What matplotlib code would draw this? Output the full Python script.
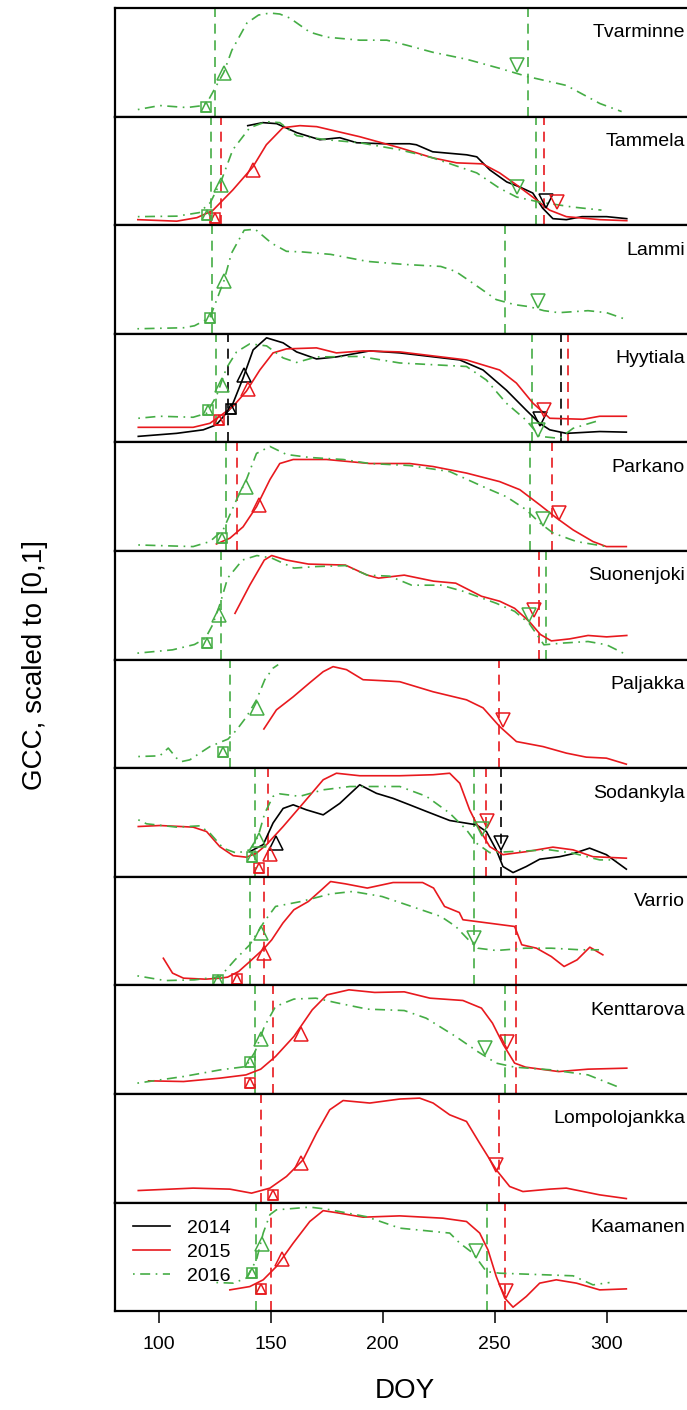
import matplotlib
matplotlib.use("Agg")
import matplotlib.pyplot as plt
from matplotlib.lines import Line2D

plt.rcParams['font.family'] = ['Liberation Sans', 'DejaVu Sans']

sites = ["Tvarminne", "Tammela", "Lammi", "Hyytiala", "Parkano", "Suonenjoki",
         "Paljakka", "Sodankyla", "Varrio", "Kenttarova", "Lompolojankka", "Kaamanen"]
years = [2014, 2015, 2016]
year_colors = {2014: "black", 2015: "#E8191E", 2016: "#45AD45"}
xticks = [100, 150, 200, 250, 300]

# Tvarminne
tva16_doy = [90.6, 100.4, 112.5, 119.8, 122.3, 125.0, 129.0, 132.6, 139.3, 144.5, 149.6, 154.0, 158.5,
             167.4, 175.0, 189.7, 201.8, 210.7, 222.3, 237.5, 252.2, 264.3, 282.0, 297.0, 306.7]
tva16_gcc = [0.03, 0.07, 0.05, 0.07, 0.13, 0.24, 0.40, 0.62, 0.89, 0.97, 0.99, 0.98, 0.94,
             0.80, 0.75, 0.72, 0.72, 0.67, 0.60, 0.53, 0.44, 0.36, 0.27, 0.09, 0.01]
tva16_sos, tva16_mid, tva16_eos = (121.0, 0.06), (129.0, 0.39), (259.8, 0.47)
tva16_lines = [125.0, 264.7]

# Tammela
tam14_doy = [139.7, 146.4, 152.6, 161.6, 171.9, 180.8, 188.4, 200.0, 212.0, 215.0, 222.3, 237.5,
             242.0, 247.8, 255.4, 261.2, 267.0, 271.4, 276.0, 282.0, 289.0, 300.0, 309.0]
tam14_gcc = [0.95, 0.98, 0.97, 0.88, 0.81, 0.83, 0.78, 0.77, 0.77, 0.76, 0.69, 0.66,
             0.64, 0.51, 0.39, 0.34, 0.28, 0.13, 0.025, 0.015, 0.045, 0.045, 0.025]
tam14_sos, tam14_mid, tam14_eos = None, None, (273.0, 0.20)
tam14_lines = []
tam15_doy = [90.6, 108.0, 117.0, 124.0, 133.0, 142.0, 148.0, 155.4, 163.0, 170.5, 189.7, 207.6,
             222.3, 233.0, 244.6, 252.2, 259.8, 267.0, 274.5, 282.0, 297.0, 309.0]
tam15_gcc = [0.015, 0.0, 0.035, 0.105, 0.31, 0.54, 0.76, 0.93, 0.95, 0.94, 0.84, 0.73,
             0.63, 0.58, 0.57, 0.48, 0.36, 0.24, 0.11, 0.045, 0.015, 0.005]
tam15_sos, tam15_mid, tam15_eos = (125.0, 0.035), (142.0, 0.51), (277.7, 0.195)
tam15_lines = [127.7, 271.9]
tam16_doy = [90.6, 108.0, 118.0, 123.0, 128.0, 133.0, 140.6, 148.0, 154.0, 161.6, 175.0, 189.7,
             207.6, 222.3, 242.0, 252.0, 259.8, 270.0, 285.0, 297.7]
tam16_gcc = [0.045, 0.05, 0.085, 0.185, 0.41, 0.71, 0.93, 0.99, 0.98, 0.85, 0.81, 0.78,
             0.71, 0.63, 0.48, 0.33, 0.24, 0.19, 0.14, 0.11]
tam16_sos, tam16_mid, tam16_eos = (121.4, 0.065), (127.7, 0.36), (259.8, 0.34)
tam16_lines = [123.5, 268.6]

# Lammi
lam16_doy = [90.4, 111.0, 115.9, 122.8, 129.1, 132.4, 138.1, 143.0, 150.4, 157.0, 163.6, 176.7, 193.1,
             209.6, 225.9, 232.6, 242.4, 250.7, 258.9, 265.4, 272.0, 278.6, 291.7, 300.0, 309.0]
lam16_gcc = [0.01, 0.02, 0.04, 0.12, 0.49, 0.76, 0.99, 1.0, 0.86, 0.78, 0.775, 0.75, 0.68,
             0.65, 0.63, 0.58, 0.43, 0.30, 0.25, 0.23, 0.19, 0.17, 0.19, 0.17, 0.10]
lam16_sos, lam16_mid, lam16_eos = (122.8, 0.12), (129.1, 0.49), (269.5, 0.29)
lam16_lines = [123.7, 254.5]

# Hyytiala
hyy14_doy = [90.8, 107.9, 119.8, 125.7, 129.5, 132.4, 137.6, 142.1, 148.1, 155.5, 161.5, 170.4,
             179.3, 194.2, 207.6, 234.4, 244.8, 255.2, 264.1, 270.1, 274.6, 282.0, 296.9, 308.8]
hyy14_gcc = [0.02, 0.05, 0.085, 0.135, 0.235, 0.31, 0.60, 0.88, 1.0, 0.95, 0.86, 0.79,
             0.81, 0.87, 0.85, 0.78, 0.68, 0.48, 0.28, 0.15, 0.085, 0.05, 0.068, 0.062]
hyy14_sos, hyy14_mid, hyy14_eos = (132.0, 0.29), (137.9, 0.63), (270.4, 0.19)
hyy14_lines = [130.9, 279.8]
hyy15_doy = [90.8, 115.3, 122.8, 127.2, 133.2, 139.1, 145.1, 151.0, 157.0, 170.4, 179.3, 191.2,
             207.6, 237.4, 252.2, 259.7, 267.1, 274.6, 289.4, 296.9, 308.8]
hyy15_gcc = [0.11, 0.11, 0.15, 0.22, 0.32, 0.47, 0.68, 0.85, 0.89, 0.90, 0.85, 0.87,
             0.86, 0.78, 0.68, 0.55, 0.35, 0.20, 0.19, 0.22, 0.22]
hyy15_sos, hyy15_mid, hyy15_eos = (126.9, 0.18), (139.9, 0.49), (271.9, 0.28)
hyy15_lines = [282.7]
hyy16_doy = [90.8, 100.4, 115.3, 121.3, 125.7, 130.2, 134.7, 140.6, 148.1, 155.5, 161.5, 170.4,
             189.7, 207.6, 237.4, 246.3, 255.2, 264.1, 270.1, 279.0, 285.0, 296.9]
hyy16_gcc = [0.20, 0.22, 0.21, 0.25, 0.42, 0.70, 0.86, 0.94, 0.92, 0.80, 0.755, 0.81,
             0.815, 0.75, 0.715, 0.58, 0.35, 0.18, 0.02, 0.0, 0.10, 0.18]
hyy16_sos, hyy16_mid, hyy16_eos = (122.0, 0.28), (128.0, 0.53), (269.3, 0.085)
hyy16_lines = [125.7, 266.8]

# Parkano
par15_doy = [125.7, 131.7, 137.6, 143.6, 149.6, 154.0, 160.0, 174.9, 194.2, 212.0, 222.5, 237.4,
             252.2, 261.2, 270.1, 277.5, 285.0, 293.9, 299.9, 308.8]
par15_gcc = [0.03, 0.087, 0.20, 0.40, 0.67, 0.83, 0.87, 0.87, 0.83, 0.83, 0.80, 0.735,
             0.65, 0.57, 0.42, 0.29, 0.17, 0.054, 0.004, 0.004]
par15_sos, par15_mid, par15_eos = None, (144.6, 0.42), (278.6, 0.34)
par15_lines = [134.9, 275.6]
par16_doy = [90.8, 115.3, 122.8, 128.7, 134.7, 139.1, 143.6, 149.6, 157.0, 167.4, 182.3, 194.2,
             212.0, 229.9, 244.8, 255.2, 264.1, 270.1, 276.0, 286.5, 299.9]
par16_gcc = [0.02, 0.004, 0.054, 0.17, 0.47, 0.67, 0.93, 1.0, 0.92, 0.89, 0.87, 0.83,
             0.81, 0.75, 0.60, 0.50, 0.37, 0.24, 0.14, 0.054, 0.004]
par16_sos, par16_mid, par16_eos = (128.0, 0.087), (138.8, 0.60), (271.6, 0.28)
par16_lines = [129.8, 265.6]

# Suonenjoki
suo15_doy = [134.0, 140.6, 147.1, 150.4, 157.0, 166.8, 183.3, 193.1, 198.1, 209.6, 222.7, 232.6,
             244.1, 252.3, 258.9, 265.4, 270.4, 275.3, 283.5, 291.7, 300.0, 309.0]
suo15_gcc = [0.42, 0.70, 0.95, 0.995, 0.95, 0.91, 0.90, 0.80, 0.77, 0.80, 0.74, 0.72,
             0.59, 0.54, 0.47, 0.34, 0.21, 0.146, 0.166, 0.20, 0.186, 0.20]
suo15_sos, suo15_mid, suo15_eos = None, None, (267.4, 0.45)
suo15_lines = [270.0]
suo16_doy = [90.4, 106.1, 115.9, 120.8, 124.1, 127.4, 130.7, 137.3, 143.8, 150.4, 160.3, 170.1, 183.3,
             193.1, 203.0, 212.9, 226.0, 235.8, 250.7, 258.9, 265.4, 272.0, 280.2, 291.7, 300.0, 309.0]
suo16_gcc = [0.024, 0.057, 0.11, 0.173, 0.31, 0.52, 0.77, 0.95, 0.995, 0.97, 0.87, 0.885, 0.895,
             0.80, 0.79, 0.70, 0.70, 0.64, 0.52, 0.44, 0.32, 0.107, 0.124, 0.14, 0.107, 0.007]
suo16_sos, suo16_mid, suo16_eos = (121.7, 0.124), (126.9, 0.40), (265.4, 0.405)
suo16_lines = [127.9, 272.8]

# Paljakka
pal15_doy = [146.9, 152.5, 160.0, 167.4, 173.4, 177.8, 183.8, 191.2, 200.1, 207.6, 222.5, 237.4,
             244.8, 252.2, 259.7, 271.6, 282.0, 290.9, 299.9, 308.8]
pal15_gcc = [0.35, 0.54, 0.67, 0.81, 0.92, 0.97, 0.94, 0.84, 0.83, 0.82, 0.72, 0.64,
             0.56, 0.375, 0.225, 0.175, 0.11, 0.07, 0.06, 0.0]
pal15_sos, pal15_mid, pal15_eos = None, None, (253.7, 0.435)
pal15_lines = [251.8]
pal16_doy = [90.8, 100.4, 104.2, 107.9, 110.1, 113.8, 118.3, 122.8, 130.9, 134.7, 139.1, 143.6,
             147.3, 151.0, 153.3]
pal16_gcc = [0.076, 0.083, 0.16, 0.06, 0.026, 0.043, 0.11, 0.175, 0.25, 0.34, 0.47, 0.64,
             0.84, 0.955, 0.99]
pal16_sos, pal16_mid, pal16_eos = (128.7, 0.12), (143.9, 0.56), None
pal16_lines = [131.7]

# Sodankyla
sod14_doy = [140.6, 146.6, 151.0, 155.5, 160.0, 165.9, 173.4, 180.8, 189.7, 197.2, 204.6, 212.0, 219.5,
             229.9, 241.8, 246.3, 250.7, 253.7, 258.2, 264.1, 270.1, 279.0, 285.0, 292.4, 299.9, 308.8]
sod14_gcc = [0.21, 0.28, 0.495, 0.64, 0.676, 0.626, 0.576, 0.69, 0.875, 0.79, 0.74, 0.676, 0.61,
             0.52, 0.477, 0.41, 0.228, 0.062, 0.002, 0.062, 0.135, 0.16, 0.19, 0.245, 0.18, 0.036]
sod14_sos, sod14_mid, sod14_eos = None, (152.1, 0.295), (252.7, 0.30)
sod14_lines = [252.7]
sod15_doy = [90.8, 100.4, 115.3, 121.3, 127.2, 133.2, 139.1, 143.6, 148.1, 155.5, 164.4, 173.4, 179.3,
             189.7, 207.6, 222.5, 229.9, 234.4, 238.8, 243.3, 247.8, 253.7, 264.1, 276.0, 285.0, 293.9, 308.8]
sod15_gcc = [0.46, 0.47, 0.454, 0.41, 0.26, 0.17, 0.155, 0.195, 0.28, 0.46, 0.69, 0.925, 0.99,
             0.965, 0.965, 0.975, 0.99, 0.89, 0.626, 0.427, 0.26, 0.18, 0.21, 0.255, 0.228, 0.16, 0.145]
sod15_sos, sod15_mid, sod15_eos = (144.8, 0.046), (149.8, 0.19), (246.6, 0.51)
sod15_lines = [148.8, 246.0]
sod16_doy = [90.8, 94.5, 107.9, 118.3, 122.8, 128.7, 134.7, 140.6, 144.3, 147.3, 151.0, 154.0, 162.9,
             173.4, 185.3, 197.2, 207.6, 219.5, 229.9, 237.4, 241.8, 247.8, 256.7, 274.6, 285.0, 296.9, 304.3]
sod16_gcc = [0.527, 0.487, 0.454, 0.467, 0.394, 0.245, 0.195, 0.228, 0.36, 0.593, 0.76, 0.785, 0.76,
             0.825, 0.858, 0.858, 0.858, 0.76, 0.593, 0.427, 0.295, 0.20, 0.21, 0.228, 0.195, 0.128, 0.128]
sod16_sos, sod16_mid, sod16_eos = (141.8, 0.16), (144.8, 0.327), (244.5, 0.44)
sod16_lines = [142.9, 240.6]

# Varrio
var15_doy = [102.0, 106.1, 111.0, 120.8, 127.4, 130.7, 135.6, 140.6, 147.1, 150.4, 155.4, 160.3, 166.8,
             172.6, 176.7, 183.3, 193.1, 204.6, 217.8, 222.7, 227.6, 234.2, 235.8, 258.9, 262.1, 268.7,
             275.3, 281.0, 286.8, 292.5, 298.3]
var15_gcc = [0.23, 0.082, 0.032, 0.022, 0.032, 0.042, 0.098, 0.197, 0.33, 0.413, 0.58, 0.712, 0.795,
             0.91, 0.993, 0.97, 0.928, 0.983, 0.983, 0.928, 0.745, 0.685, 0.613, 0.546, 0.364, 0.33,
             0.247, 0.148, 0.214, 0.34, 0.264]
var15_sos, var15_mid, var15_eos = (134.8, 0.022), (147.1, 0.28), None
var15_lines = [146.8, 259.7]
var16_doy = [90.4, 102.8, 115.9, 127.4, 134.0, 140.6, 147.1, 152.1, 163.6, 176.7, 186.6, 199.7,
             212.9, 226.0, 232.6, 238.3, 242.4, 250.7, 263.8, 275.3, 288.4, 296.6]
var16_gcc = [0.055, 0.008, 0.015, 0.048, 0.214, 0.364, 0.595, 0.745, 0.795, 0.87, 0.894, 0.844,
             0.745, 0.645, 0.546, 0.413, 0.33, 0.307, 0.33, 0.33, 0.314, 0.314]
var16_sos, var16_mid, var16_eos = (126.6, 0.015), (145.5, 0.486), (240.8, 0.43)
var16_lines = [140.9, 240.8]

# Kenttarova
ken15_doy = [95.4, 111.0, 127.4, 138.9, 145.5, 152.1, 160.3, 168.5, 175.1, 184.9, 196.4, 209.6,
             221.1, 235.8, 244.1, 249.0, 253.9, 258.9, 263.8, 278.6, 291.7, 309.0]
ken15_gcc = [0.091, 0.084, 0.118, 0.15, 0.207, 0.333, 0.532, 0.797, 0.946, 0.996, 0.97, 0.976,
             0.913, 0.89, 0.814, 0.665, 0.449, 0.267, 0.227, 0.183, 0.207, 0.217]
ken15_sos, ken15_mid, ken15_eos = (140.6, 0.074), (163.6, 0.558), (255.3, 0.48)
ken15_lines = [150.8, 259.7]
ken16_doy = [90.4, 111.0, 127.4, 138.9, 143.0, 147.1, 152.1, 160.3, 170.1, 180.0, 193.1, 209.6,
             219.4, 232.6, 242.4, 250.7, 258.9, 275.3, 291.7, 306.5]
ken16_gcc = [0.068, 0.134, 0.20, 0.233, 0.382, 0.63, 0.83, 0.904, 0.913, 0.864, 0.804, 0.79,
             0.714, 0.532, 0.382, 0.267, 0.227, 0.20, 0.15, 0.018]
ken16_sos, ken16_mid, ken16_eos = (140.6, 0.283), (145.8, 0.506), (245.7, 0.416)
ken16_lines = [143.0, 254.8]

# Lompolojankka
lom15_doy = [90.8, 115.3, 131.7, 141.4, 149.6, 157.0, 164.4, 170.4, 176.3, 182.3, 194.2, 207.6,
             216.5, 222.5, 229.9, 237.4, 243.3, 250.7, 256.7, 262.6, 274.6, 282.0, 296.9, 308.8]
lom15_gcc = [0.08, 0.104, 0.094, 0.054, 0.104, 0.22, 0.385, 0.65, 0.883, 0.975, 0.95, 0.99,
             0.999, 0.95, 0.833, 0.767, 0.55, 0.286, 0.12, 0.07, 0.094, 0.104, 0.037, 0.0]
lom15_sos, lom15_mid, lom15_eos = (150.8, 0.037), (163.7, 0.352), (250.7, 0.335)
lom15_lines = [145.8, 251.8]

# Kaamanen
kaa15_doy = [131.7, 140.6, 146.6, 152.5, 160.0, 167.4, 173.4, 179.3, 191.2, 207.6, 226.9, 237.4,
             243.3, 247.0, 250.7, 254.5, 258.2, 264.1, 270.1, 277.5, 286.5, 296.9, 308.8]
kaa15_gcc = [0.172, 0.205, 0.272, 0.404, 0.637, 0.852, 0.96, 0.94, 0.895, 0.908, 0.885, 0.852,
             0.737, 0.57, 0.305, 0.09, 0.0, 0.106, 0.239, 0.272, 0.239, 0.172, 0.182]
kaa15_sos, kaa15_mid, kaa15_eos = (145.8, 0.18), (154.8, 0.478), (254.9, 0.156)
kaa15_lines = [150.0, 254.8]
kaa16_doy = [125.7, 133.2, 139.1, 143.6, 146.6, 149.6, 152.5, 167.4, 174.9, 192.7, 207.6, 229.9,
             234.4, 240.3, 246.3, 252.2, 285.0, 293.9, 301.3]
kaa16_gcc = [0.245, 0.239, 0.29, 0.47, 0.737, 0.92, 0.968, 0.995, 0.975, 0.90, 0.786, 0.737,
             0.637, 0.537, 0.354, 0.338, 0.312, 0.222, 0.245]
kaa16_sos, kaa16_mid, kaa16_eos = (141.8, 0.338), (146.1, 0.63), (241.8, 0.56)
kaa16_lines = [143.6, 246.6]

series = [
    ("Tvarminne", 2016, tva16_doy, tva16_gcc, tva16_sos, tva16_mid, tva16_eos, tva16_lines),
    ("Tammela", 2014, tam14_doy, tam14_gcc, tam14_sos, tam14_mid, tam14_eos, tam14_lines),
    ("Tammela", 2015, tam15_doy, tam15_gcc, tam15_sos, tam15_mid, tam15_eos, tam15_lines),
    ("Tammela", 2016, tam16_doy, tam16_gcc, tam16_sos, tam16_mid, tam16_eos, tam16_lines),
    ("Lammi", 2016, lam16_doy, lam16_gcc, lam16_sos, lam16_mid, lam16_eos, lam16_lines),
    ("Hyytiala", 2014, hyy14_doy, hyy14_gcc, hyy14_sos, hyy14_mid, hyy14_eos, hyy14_lines),
    ("Hyytiala", 2015, hyy15_doy, hyy15_gcc, hyy15_sos, hyy15_mid, hyy15_eos, hyy15_lines),
    ("Hyytiala", 2016, hyy16_doy, hyy16_gcc, hyy16_sos, hyy16_mid, hyy16_eos, hyy16_lines),
    ("Parkano", 2015, par15_doy, par15_gcc, par15_sos, par15_mid, par15_eos, par15_lines),
    ("Parkano", 2016, par16_doy, par16_gcc, par16_sos, par16_mid, par16_eos, par16_lines),
    ("Suonenjoki", 2015, suo15_doy, suo15_gcc, suo15_sos, suo15_mid, suo15_eos, suo15_lines),
    ("Suonenjoki", 2016, suo16_doy, suo16_gcc, suo16_sos, suo16_mid, suo16_eos, suo16_lines),
    ("Paljakka", 2015, pal15_doy, pal15_gcc, pal15_sos, pal15_mid, pal15_eos, pal15_lines),
    ("Paljakka", 2016, pal16_doy, pal16_gcc, pal16_sos, pal16_mid, pal16_eos, pal16_lines),
    ("Sodankyla", 2014, sod14_doy, sod14_gcc, sod14_sos, sod14_mid, sod14_eos, sod14_lines),
    ("Sodankyla", 2015, sod15_doy, sod15_gcc, sod15_sos, sod15_mid, sod15_eos, sod15_lines),
    ("Sodankyla", 2016, sod16_doy, sod16_gcc, sod16_sos, sod16_mid, sod16_eos, sod16_lines),
    ("Varrio", 2015, var15_doy, var15_gcc, var15_sos, var15_mid, var15_eos, var15_lines),
    ("Varrio", 2016, var16_doy, var16_gcc, var16_sos, var16_mid, var16_eos, var16_lines),
    ("Kenttarova", 2015, ken15_doy, ken15_gcc, ken15_sos, ken15_mid, ken15_eos, ken15_lines),
    ("Kenttarova", 2016, ken16_doy, ken16_gcc, ken16_sos, ken16_mid, ken16_eos, ken16_lines),
    ("Lompolojankka", 2015, lom15_doy, lom15_gcc, lom15_sos, lom15_mid, lom15_eos, lom15_lines),
    ("Kaamanen", 2015, kaa15_doy, kaa15_gcc, kaa15_sos, kaa15_mid, kaa15_eos, kaa15_lines),
    ("Kaamanen", 2016, kaa16_doy, kaa16_gcc, kaa16_sos, kaa16_mid, kaa16_eos, kaa16_lines),
]

line_styles = {2014: "-", 2015: "-", 2016: (0, (1, 3.3, 6, 3.3))}

W, H = 687, 1410
fig = plt.figure(figsize=(W / 100, H / 100), dpi=100)
top0, ph, left = 8, 108.6, 115

axes = {}
for i, name in enumerate(sites):
    ax = fig.add_axes([left / W, 1 - (top0 + ph * (i + 1)) / H, (W - left) / W, ph / H])
    ax.set_xlim(80.4, 335.9)
    ax.set_ylim(-0.04, 1.04)
    ax.set_yticks([])
    for s in ["left", "top", "bottom"]:
        ax.spines[s].set_linewidth(1.6)
    ax.spines["right"].set_visible(False)
    if i < len(sites) - 1:
        ax.set_xticks([])
    else:
        ax.set_xticks(xticks)
        ax.tick_params(axis="x", length=8.6, width=1.1, labelsize=14, pad=9)
    ax.text(0.9965, 0.77, name, transform=ax.transAxes, ha="right", va="center", fontsize=14)
    axes[name] = ax

for name, yr, doy, gcc, sos, mid, eos, vl in series:
    ax = axes[name]
    c = year_colors[yr]
    ax.plot(doy, gcc, color=c, lw=1.2, linestyle=line_styles[yr], zorder=2)
    for v in vl:
        ax.axvline(v, color=c, lw=1.2, linestyle=(0, (6, 4)), zorder=1.5)
    if sos is not None:
        ax.plot(*sos, marker="s", ms=7.2, mfc="none", mec=c, mew=1.1, zorder=3)
        ax.plot(*sos, marker="^", ms=7.2, mfc="none", mec=c, mew=1.1, zorder=3)
    if mid is not None:
        ax.plot(*mid, marker="^", ms=9.5, mfc="none", mec=c, mew=1.1, zorder=3)
    if eos is not None:
        ax.plot(*eos, marker="v", ms=9.5, mfc="none", mec=c, mew=1.1, zorder=3)

handles = [Line2D([], [], color=year_colors[y], lw=1.2, linestyle=line_styles[y]) for y in years]
axes["Kaamanen"].legend(handles, [str(y) for y in years], loc="upper left",
                        bbox_to_anchor=(0.031, 0.845), frameon=False, fontsize=14,
                        borderpad=0, borderaxespad=0, handlelength=1.9,
                        handletextpad=0.9, labelspacing=0.33)

fig.text(35 / W, 1 - 665 / H, "GCC, scaled to [0,1]", rotation=90, ha="center", va="center", fontsize=20)
fig.text(405 / W, 1 - 1391 / H, "DOY", ha="center", va="center", fontsize=20)

fig.savefig("out.png", dpi=100)
